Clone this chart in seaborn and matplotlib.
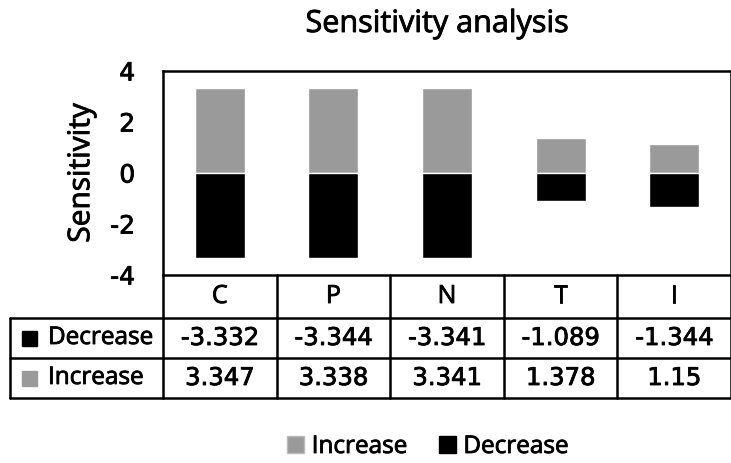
import matplotlib
matplotlib.use("Agg")
import matplotlib.pyplot as plt
import matplotlib.patheffects as pe
import seaborn as sns
import pandas as pd
from matplotlib.patches import Patch, Rectangle

categories = ["C", "P", "N", "T", "I"]
decrease = [-3.332, -3.344, -3.341, -1.089, -1.344]
increase = [3.347, 3.338, 3.341, 1.378, 1.15]
series_names = ["Increase", "Decrease"]
yticks = [-4, -2, 0, 2, 4]

GRAY = "#9a9a9a"
BLACK = "#000000"

sns.set_theme(style="white")
plt.rcParams["font.family"] = ["Open Sans", "DejaVu Sans"]
plt.rcParams["text.color"] = "black"
plt.rcParams["ytick.color"] = "black"
plt.rcParams["axes.labelcolor"] = "black"

FS = 17.5
NUMFONT = ["DejaVu Sans"]
HEAVY = [pe.withStroke(linewidth=0.6, foreground="black")]
W, H = 731, 463
fig = plt.figure(figsize=(W / 100, H / 100), dpi=100)

def px_axes(l, t, r, b):
    return fig.add_axes([l / W, 1 - b / H, (r - l) / W, (b - t) / H])

# plot area
ax = px_axes(163, 71, 731, 275)
df = pd.DataFrame({
    "cat": categories * 2,
    "value": increase + decrease,
    "series": ["Increase"] * len(categories) + ["Decrease"] * len(categories),
})
sns.barplot(data=df, x="cat", y="value", hue="series", dodge=False,
            palette={"Increase": GRAY, "Decrease": BLACK}, width=0.44,
            ax=ax, legend=False, saturation=1)
ax.set_ylim(-4, 4)
ax.set_xlim(-0.5, len(categories) - 0.5)
ax.set_yticks(yticks)
ax.set_yticklabels([str(t) for t in yticks], fontsize=18, family=NUMFONT)
for t in ax.get_yticklabels():
    t.set_path_effects(HEAVY)
ax.tick_params(axis="y", length=0, pad=20)
ax.set_xticks([])
ax.set_xlabel("")
ax.set_ylabel("Sensitivity", fontsize=21.5, labelpad=10, path_effects=HEAVY)
for s in ax.spines.values():
    s.set_color("black")
    s.set_linewidth(1.8)
ax.spines["bottom"].set_visible(False)

fig.text(437 / W, 1 - 24 / H, "Sensitivity analysis", ha="center", va="center",
         fontsize=22, path_effects=HEAVY)

# data table
tax = px_axes(10, 275, 731, 398)
n = len(categories)
colw_px = (731 - 163) / n
lab_w = (163 - 10) / colw_px
tax.set_xlim(-lab_w, n)
tax.set_ylim(123, 0)
tax.axis("off")
lw = 1.8
row_y = [0, 43, 83, 123]
tax.plot([0, n], [0, 0], color="black", lw=lw, clip_on=False)
for i in range(n + 1):
    tax.plot([i, i], [0, 123], color="black", lw=lw, clip_on=False)
tax.plot([-lab_w, -lab_w], [43, 123], color="black", lw=lw, clip_on=False)
for yy in row_y[1:]:
    tax.plot([-lab_w, n], [yy, yy], color="black", lw=lw, clip_on=False)
for i, c in enumerate(categories):
    tax.text(i + 0.5, 21.5, c, ha="center", va="center", fontsize=18, path_effects=HEAVY)
rows = [("Decrease", decrease, BLACK), ("Increase", increase, GRAY)]
for r, (name, vals, col) in enumerate(rows):
    yc = (row_y[r + 1] + row_y[r + 2]) / 2
    tax.add_patch(Rectangle((-lab_w + 12 / colw_px, yc - 7.5), 15 / colw_px, 15,
                            color=col, clip_on=False))
    tax.text(-lab_w + 38 / colw_px, yc, name, ha="left", va="center", fontsize=FS,
             path_effects=HEAVY)
    for i, v in enumerate(vals):
        tax.text(i + 0.5, yc, f"{v:g}", ha="center", va="center", fontsize=FS,
                 family=NUMFONT, path_effects=HEAVY)

handles = [Patch(facecolor=GRAY, edgecolor="#bbbbbb", label="Increase"),
           Patch(facecolor=BLACK, edgecolor=BLACK, label="Decrease")]
leg = fig.legend(handles=handles, loc="center", bbox_to_anchor=(428 / W, 1 - 447 / H),
                 ncol=2, frameon=False, fontsize=FS, handlelength=0.7, handleheight=0.7,
                 handletextpad=0.3, columnspacing=1.3)
for t in leg.get_texts():
    t.set_path_effects(HEAVY)

fig.savefig("out.png", dpi=100)
